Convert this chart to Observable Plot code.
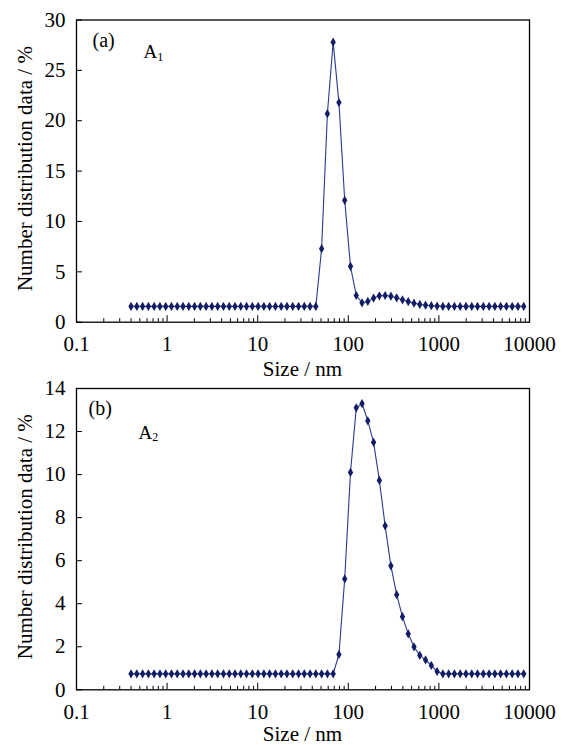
<!DOCTYPE html>
<html>
<head>
<meta charset="utf-8">
<script src="https://cdn.jsdelivr.net/npm/d3@7"></script>
<script src="https://cdn.jsdelivr.net/npm/@observablehq/plot@0.6"></script>
<style>
  html, body { margin: 0; padding: 0; background: #fff; }
  #chart svg { display: block; }
</style>
</head>
<body>
<div id="chart"></div>
<script>
// Size bins (nm)
const sizes = [0.4, 0.4632, 0.5365, 0.6213, 0.7195, 0.8332, 0.9649, 1.117, 1.294, 1.499,
  1.736, 2.01, 2.328, 2.696, 3.122, 3.615, 4.187, 4.849, 5.615, 6.503,
  7.531, 8.721, 10.1, 11.7, 13.54, 15.69, 18.17, 21.04, 24.36, 28.21,
  32.67, 37.84, 43.82, 50.75, 58.77, 68.06, 78.82, 91.28, 105.7, 122.4,
  141.8, 164.2, 190.1, 220.2, 255, 295.3, 342, 396.1, 458.7, 531.2,
  615.1, 712.4, 825, 955.4, 1106, 1281, 1484, 1718, 1990, 2305,
  2669, 3091, 3580, 4145, 4801, 5560, 6439, 7456, 8635];

// Panel (a) A1 number distribution (%)
const valuesA1 = [1.57, 1.57, 1.57, 1.57, 1.57, 1.57, 1.57, 1.57, 1.57, 1.57,
  1.57, 1.57, 1.57, 1.57, 1.57, 1.57, 1.57, 1.57, 1.57, 1.57,
  1.57, 1.57, 1.57, 1.57, 1.57, 1.57, 1.57, 1.57, 1.57, 1.57,
  1.57, 1.57, 1.57, 7.3, 20.7, 27.8, 21.8, 12.1, 5.55, 2.65,
  1.93, 2.06, 2.39, 2.62, 2.65, 2.58, 2.42, 2.22, 2.05, 1.89,
  1.76, 1.69, 1.64, 1.6, 1.57, 1.57, 1.57, 1.57, 1.57, 1.57,
  1.57, 1.57, 1.57, 1.57, 1.57, 1.57, 1.57, 1.57, 1.57];

// Panel (b) A2 number distribution (%)
const valuesA2 = [0.74, 0.74, 0.74, 0.74, 0.74, 0.74, 0.74, 0.74, 0.74, 0.74,
  0.74, 0.74, 0.74, 0.74, 0.74, 0.74, 0.74, 0.74, 0.74, 0.74,
  0.74, 0.74, 0.74, 0.74, 0.74, 0.74, 0.74, 0.74, 0.74, 0.74,
  0.74, 0.74, 0.74, 0.74, 0.74, 0.74, 1.64, 5.15, 10.1, 13.1,
  13.3, 12.5, 11.5, 9.73, 7.62, 5.76, 4.42, 3.4, 2.6, 2.0,
  1.6, 1.39, 1.13, 0.85, 0.74, 0.74, 0.74, 0.74, 0.74, 0.74,
  0.74, 0.74, 0.74, 0.74, 0.74, 0.74, 0.74, 0.74, 0.74];

// Axis ticks
const xMajor = [0.1, 1, 10, 100, 1000, 10000];
const xLabels = ["0.1", "1", "10", "100", "1000", "10000"];
const xMinor = [0.2,0.3,0.4,0.5,0.6,0.7,0.8,0.9, 2,3,4,5,6,7,8,9, 20,30,40,50,60,70,80,90,
  200,300,400,500,600,700,800,900, 2000,3000,4000,5000,6000,7000,8000,9000];
const yTicksA = [0, 5, 10, 15, 20, 25, 30];
const yTicksB = [0, 2, 4, 6, 8, 10, 12, 14];

const xTitle = "Size / nm";
const yTitle = "Number distribution data / %";

const FONT = "'Liberation Serif', 'Times New Roman', serif";
const LINE = "#2a3a8e";
const MARK = "#121d66";

function panel({values, yTicks, yMax, tag, name, sub, height, mt, mb, tagPos, namePos, xTitleY}) {
  const W = 570, ml = 76, mr = 41;
  const fw = W - ml - mr;
  const fh = height - mt - mb;
  const data = sizes.map((s, i) => ({size: s, value: values[i]}));
  const svg = Plot.plot({
    width: W, height,
    marginLeft: ml, marginRight: mr, marginTop: mt, marginBottom: mb,
    style: {fontFamily: FONT, fontSize: "21px", color: "#000", background: "#fff", overflow: "visible"},
    x: {type: "log", domain: [0.1, 10000]},
    y: {domain: [0, yMax]},
    marks: [
      Plot.tickX(xMinor, {x: d => d, insetTop: fh - 3.5, stroke: "#000", strokeWidth: 1}),
      Plot.tickX(xMajor, {x: d => d, insetTop: fh - 6.5, stroke: "#000", strokeWidth: 1}),
      Plot.tickY(yTicks, {y: d => d, insetRight: fw - 6, stroke: "#000", strokeWidth: 1}),
      Plot.axisX(xMajor, {tickSize: 0, tickPadding: 14, label: null,
        tickFormat: d => xLabels[xMajor.indexOf(d)]}),
      Plot.axisY(yTicks, {tickSize: 0, tickPadding: 11, label: null}),
      Plot.line(data, {x: "size", y: "value", stroke: LINE, strokeWidth: 1.1}),
      Plot.dot(data, {x: "size", y: "value", symbol: "diamond", r: 2.8, fill: MARK, stroke: "none"}),
      Plot.frame({stroke: "#000", strokeWidth: 1.3}),
      Plot.text([tag], {frameAnchor: "top-left", text: d => d, dx: tagPos[0], dy: tagPos[1],
        fontSize: 20, textAnchor: "start", lineAnchor: "bottom", fill: "#000"}),
      Plot.text([name], {frameAnchor: "top-left", text: d => d, dx: namePos[0], dy: namePos[1],
        fontSize: 19, textAnchor: "start", lineAnchor: "bottom", fill: "#000"}),
      Plot.text([sub], {frameAnchor: "top-left", text: d => d, dx: namePos[0] + 13.8, dy: namePos[1] + 2.5,
        fontSize: 12, textAnchor: "start", lineAnchor: "bottom", fill: "#000"})
    ]
  });
  const s = d3.select(svg);
  s.append("text")
    .attr("x", ml + fw / 2).attr("y", xTitleY)
    .attr("text-anchor", "middle")
    .attr("font-family", FONT).attr("font-size", 21).attr("fill", "#000")
    .text(xTitle);
  s.append("text")
    .attr("transform", `translate(32,${mt + fh / 2 - 2}) rotate(-90)`)
    .attr("text-anchor", "middle")
    .attr("font-family", FONT).attr("font-size", 21).attr("fill", "#000")
    .text(yTitle);
  return svg;
}

const chart = document.getElementById("chart");
chart.appendChild(panel({
  values: valuesA1, yTicks: yTicksA, yMax: 30, tag: "(a)", name: "A", sub: "1",
  height: 372, mt: 19.5, mb: 50.3, tagPos: [16, 27], namePos: [67, 38], xTitleY: 376
}));
chart.appendChild(panel({
  values: valuesA2, yTicks: yTicksB, yMax: 14, tag: "(b)", name: "A", sub: "2",
  height: 373, mt: 16, mb: 55.7, tagPos: [12, 26], namePos: [62, 50], xTitleY: 369
}));
</script>
</body>
</html>
